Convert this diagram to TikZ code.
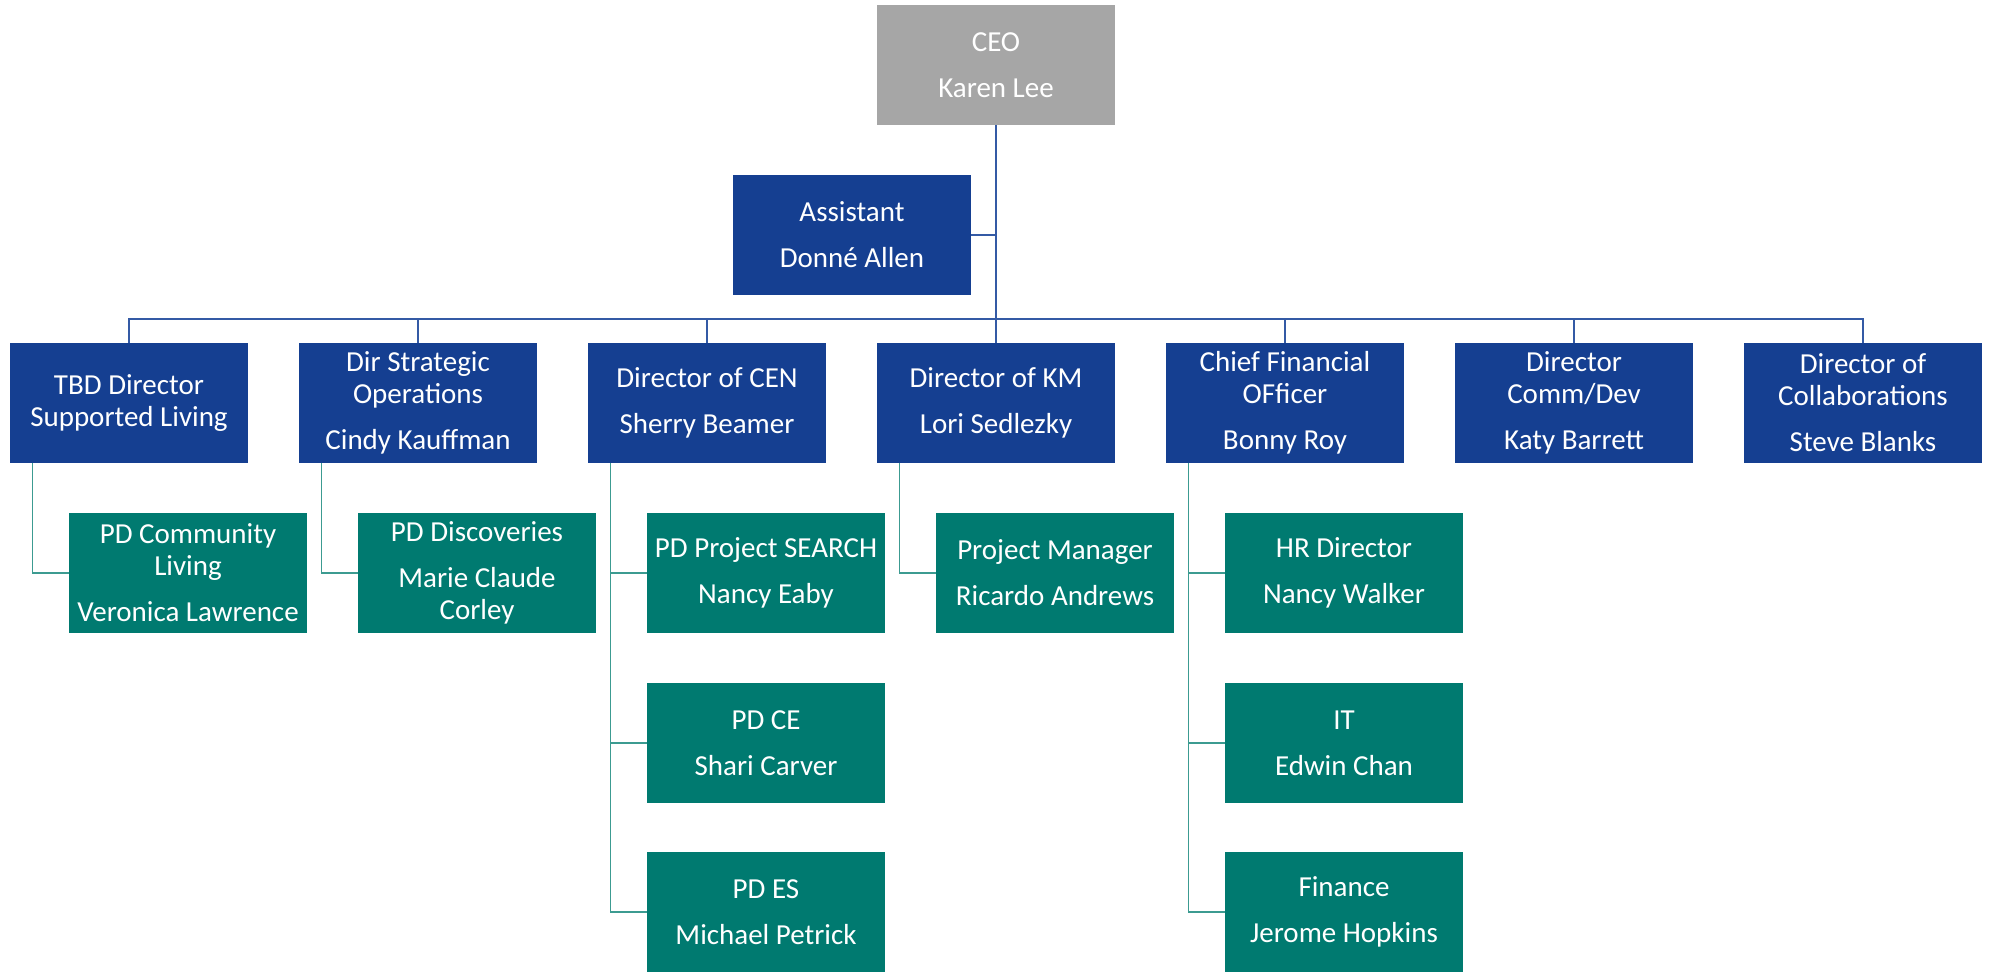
\documentclass[tikz,border=0pt]{standalone}
\usepackage{fontspec}
\setmainfont{Carlito}
\usetikzlibrary{calc}
\definecolor{dirblue}{RGB}{21,63,145}
\definecolor{pdteal}{RGB}{0,122,112}
\definecolor{ceogray}{RGB}{166,166,166}
\definecolor{lineblue}{RGB}{52,90,165}
\definecolor{lineteal}{RGB}{60,155,145}

\begin{document}
\begin{tikzpicture}[
  x=0.02cm, y=-0.02cm,
  box/.style={rectangle, minimum width=4.76cm, minimum height=2.4cm, align=center, text=white, inner sep=0pt, font=\fontsize{16.5}{18.2}\selectfont},
  ceobox/.style={box, fill=ceogray},
  dirbox/.style={box, fill=dirblue},
  pdbox/.style={box, fill=pdteal},
  link/.style={draw=lineblue, line width=0.8pt},
  teallink/.style={draw=lineteal, line width=0.8pt}
]
\useasboundingbox (0,0) rectangle (1992,971);

% CEO and assistant
\node[ceobox] (ceo) at (996, 65) {CEO\\[8pt]Karen Lee};
\node[dirbox] (asst) at (852, 235) {Assistant\\[8pt]Donn\'e Allen};

% Directors
\node[dirbox] (tbd) at (129, 403) {TBD Director\\Supported Living};
\node[dirbox] (strat) at (418, 403) {Dir Strategic\\Operations\\[8pt]Cindy Kauffman};
\node[dirbox] (cen) at (707, 403) {Director of CEN\\[8pt]Sherry Beamer};
\node[dirbox] (km) at (996, 403) {Director of KM\\[8pt]Lori Sedlezky};
\node[dirbox] (cfo) at (1285, 403) {Chief Financial\\OFficer\\[8pt]Bonny Roy};
\node[dirbox] (comm) at (1574, 403) {Director\\Comm/Dev\\[8pt]Katy Barrett};
\node[dirbox] (collab) at (1863, 403) {Director of\\Collaborations\\[8pt]Steve Blanks};

% Program staff
\node[pdbox] (pdcl) at (188, 573) {PD Community\\Living\\[8pt]Veronica Lawrence};
\node[pdbox] (pddisc) at (477, 573) {PD Discoveries\\[8pt]Marie Claude\\Corley};
\node[pdbox] (pdsearch) at (766, 573) {PD Project SEARCH\\[8pt]Nancy Eaby};
\node[pdbox] (pdce) at (766, 743) {PD CE\\[8pt]Shari Carver};
\node[pdbox] (pdes) at (766, 912) {PD ES\\[8pt]Michael Petrick};
\node[pdbox] (pm) at (1055, 573) {Project Manager\\[8pt]Ricardo Andrews};
\node[pdbox] (hr) at (1344, 573) {HR Director\\[8pt]Nancy Walker};
\node[pdbox] (it) at (1344, 743) {IT\\[8pt]Edwin Chan};
\node[pdbox] (fin) at (1344, 912) {Finance\\[8pt]Jerome Hopkins};

% Top connectors
\coordinate (bus) at (996, 319);
\draw[link] (ceo.south) -- (bus);
\draw[link] (asst.east) -- (asst.east -| ceo.south);
\draw[link] (tbd.north) |- (bus) -| (collab.north);
\draw[link] (strat.north) -- (strat.north |- bus);
\draw[link] (cen.north) -- (cen.north |- bus);
\draw[link] (km.north) -- (km.north |- bus);
\draw[link] (cfo.north) -- (cfo.north |- bus);
\draw[link] (comm.north) -- (comm.north |- bus);

% Drops to program staff
\coordinate (tbddrop) at ($(tbd.south west)+(23,0)$);
\coordinate (stratdrop) at ($(strat.south west)+(23,0)$);
\coordinate (cendrop) at ($(cen.south west)+(23,0)$);
\coordinate (kmdrop) at ($(km.south west)+(23,0)$);
\coordinate (cfodrop) at ($(cfo.south west)+(23,0)$);
\draw[teallink] (tbddrop) |- (pdcl.west);
\draw[teallink] (stratdrop) |- (pddisc.west);
\draw[teallink] (cendrop) |- (pdes.west);
\draw[teallink] (pdsearch.west) -- (pdsearch.west -| cendrop);
\draw[teallink] (pdce.west) -- (pdce.west -| cendrop);
\draw[teallink] (kmdrop) |- (pm.west);
\draw[teallink] (cfodrop) |- (fin.west);
\draw[teallink] (hr.west) -- (hr.west -| cfodrop);
\draw[teallink] (it.west) -- (it.west -| cfodrop);

\end{tikzpicture}
\end{document}
